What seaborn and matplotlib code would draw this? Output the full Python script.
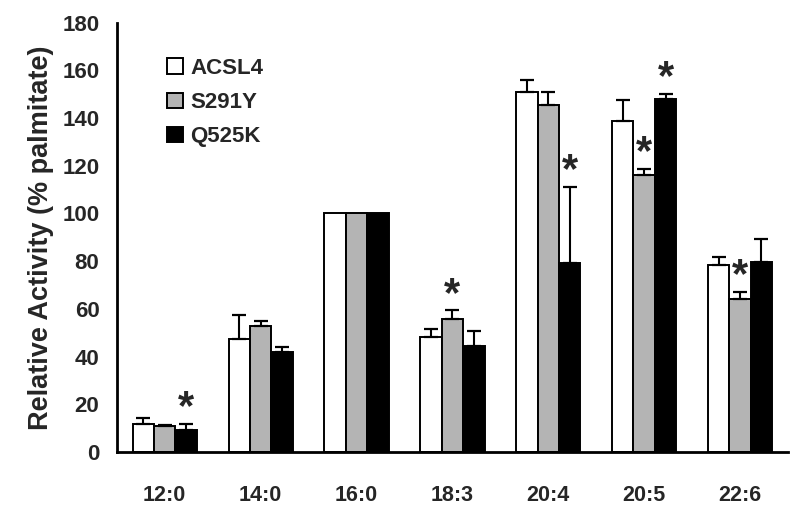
import numpy as np
import pandas as pd
import matplotlib
matplotlib.use("Agg")
import matplotlib.pyplot as plt
import seaborn as sns
from matplotlib.patches import Patch

categories = ["12:0", "14:0", "16:0", "18:3", "20:4", "20:5", "22:6"]
series = ["ACSL4", "S291Y", "Q525K"]
acsl4 = [11.5, 47.3, 100, 48.1, 150.9, 138.9, 78.2]
s291y = [10.7, 52.9, 100, 55.8, 145.3, 116.2, 64.1]
q525k = [9.2, 41.8, 100, 44.6, 79.2, 148.1, 79.6]
acsl4_err = [2.9, 10.2, 0, 3.4, 4.9, 8.5, 3.5]
s291y_err = [0.6, 2.1, 0, 3.5, 5.5, 2.4, 2.9]
q525k_err = [2.4, 2.1, 0, 6.3, 32.1, 2.1, 9.8]
# significance markers: (category, series)
stars = [("12:0", "Q525K"), ("18:3", "S291Y"), ("20:4", "Q525K"),
         ("20:5", "S291Y"), ("20:5", "Q525K"), ("22:6", "S291Y")]
yticks = [0, 20, 40, 60, 80, 100, 120, 140, 160, 180]

colors = ["#ffffff", "#b4b4b4", "#000000"]

sns.set_style("white")
plt.rcParams["font.family"] = ["Liberation Sans", "DejaVu Sans"]
plt.rcParams["font.weight"] = "bold"

rows = []
for s, vals, errs in zip(series, [acsl4, s291y, q525k], [acsl4_err, s291y_err, q525k_err]):
    for c, v, e in zip(categories, vals, errs):
        rows.append({"cat": c, "series": s, "value": v, "err": e})
df = pd.DataFrame(rows)

fig = plt.figure(figsize=(8, 5.17), dpi=100)
ax = fig.add_axes([0.146, 0.126, 0.839, 0.83])

sns.barplot(data=df, x="cat", y="value", hue="series", order=categories,
            hue_order=series, palette=colors, width=0.67, edgecolor="black",
            linewidth=1.4, errorbar=None, ax=ax, legend=False)

tops = {}
for s, cont in zip(series, ax.containers):
    sub = df[df.series == s].set_index("cat").loc[categories]
    xs = [p.get_x() + p.get_width() / 2 for p in cont.patches]
    errs = sub["err"].values
    vals = sub["value"].values
    mask = errs > 0
    ax.errorbar(np.array(xs)[mask], vals[mask],
                yerr=[np.zeros(mask.sum()), errs[mask]],
                fmt="none", ecolor="black", elinewidth=1.5, capsize=5,
                capthick=1.6, zorder=1)
    for c, x, v, e in zip(categories, xs, vals, errs):
        tops[(c, s)] = (x, v + e)

for c, s in stars:
    x, y = tops[(c, s)]
    ax.text(x, y + 2.0, "*", ha="center", va="baseline", fontsize=30,
            fontweight="bold")

ax.set_xlim(-0.5, len(categories) - 0.5)
ax.set_ylim(0, 180)
ax.set_yticks(yticks)
ax.set_yticklabels([str(t) for t in yticks], fontsize=16, fontweight="bold")
ax.set_xticks(np.arange(len(categories)))
ax.set_xticklabels(categories, fontsize=15.5, fontweight="bold")
ax.set_xticks(np.arange(-0.5, len(categories)), minor=True)
ax.tick_params(axis="x", which="major", length=0, pad=24)
ax.tick_params(axis="x", which="minor", length=6, width=2, direction="out", color="black")
ax.tick_params(axis="y", length=4.5, width=2, direction="out", color="black", pad=8)
ax.set_xlabel("")
ax.set_ylabel("Relative Activity (% palmitate)", fontsize=19.5, fontweight="bold", labelpad=6)

sns.despine(ax=ax)
for sp in ["left", "bottom"]:
    ax.spines[sp].set_linewidth(2)
    ax.spines[sp].set_color("black")

handles = [Patch(facecolor=col, edgecolor="black", linewidth=1.4) for col in colors]
leg = ax.legend(handles, series, loc="upper left", bbox_to_anchor=(0.045, 0.965),
                frameon=False, fontsize=16, handlelength=0.7, handleheight=0.7,
                handletextpad=0.35, labelspacing=0.6)
for t in leg.get_texts():
    t.set_fontweight("bold")

fig.savefig("out.png", dpi=100)
